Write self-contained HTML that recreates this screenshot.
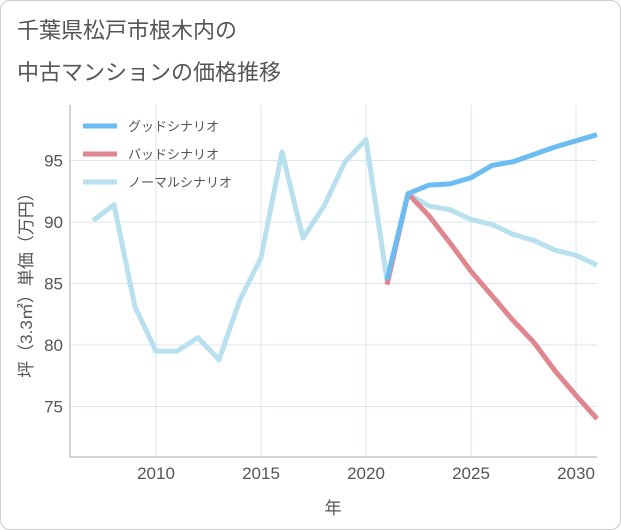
<!DOCTYPE html>
<html><head><meta charset="utf-8"><style>
body{margin:0;background:#fff;font-family:"Liberation Sans","Noto Sans CJK JP",sans-serif}
#wrap{position:relative;width:619px;height:528px;border:1px solid #ccc;border-radius:10px;overflow:hidden;background:#fff}
.t{position:absolute;left:16px;color:#555;font-size:22px;line-height:34px}
</style></head><body>
<div id="wrap">
<div class="t" style="top:13px">千葉県松戸市根木内の</div>
<div class="t" style="top:55px">中古マンションの価格推移</div>
<svg id="c" width="621" height="530" style="position:absolute;left:-1px;top:-1px"></svg>
</div>
<script>
const years=[2007,2008,2009,2010,2011,2012,2013,2014,2015,2016,2017,2018,2019,2020,2021,2022,2023,2024,2025,2026,2027,2028,2029,2030,2031];
const normal=[90.1,91.4,83.1,79.5,79.5,80.6,78.8,83.7,87.1,95.7,88.7,91.3,94.9,96.7,85.3,92.3,91.3,91.0,90.2,89.8,89.0,88.5,87.7,87.3,86.5];
const goodYears=[2021,2022,2023,2024,2025,2026,2027,2028,2029,2030,2031];
const good=[85.3,92.3,93.0,93.1,93.6,94.6,94.9,95.5,96.1,96.6,97.1];
const bad=[84.9,92.3,90.5,88.3,86.0,84.0,82.0,80.2,77.9,75.9,74.0];
const xTicks=[2010,2015,2020,2025,2030];
const yTicks=[75,80,85,90,95];
const ns="http://www.w3.org/2000/svg",svg=document.getElementById('c');
const X=y=>156+(y-2010)*21, Y=v=>222-(v-90)*12.3;
const L=70,R=597,T=105,B=457;
function el(t,a,txt){const e=document.createElementNS(ns,t);for(const k in a)e.setAttribute(k,a[k]);if(txt!==undefined)e.textContent=txt;svg.appendChild(e);return e;}
xTicks.forEach(t=>{const g=el('line',{x1:X(t),x2:X(t),y1:T,y2:B,stroke:'#dde6ee'});


const l=el('text',{x:X(t),y:479,'text-anchor':'middle','font-size':17,fill:'#555'},t);

});
yTicks.forEach(t=>{const g=el('line',{x1:L,x2:R,y1:Y(t),y2:Y(t),stroke:'#dde6ee'});


const l=el('text',{x:63,y:Y(t)+6,'text-anchor':'end','font-size':17,fill:'#555'},t);

});
const ax=el('path',{d:`M${L} ${T}V${B}H${R}`,fill:'none',stroke:'#aaa'});


const xt=el('text',{x:333,y:514,'text-anchor':'middle','font-size':17,fill:'#555'},'年');


const yt=el('text',{x:0,y:0,transform:'translate(32,281) rotate(-90)','text-anchor':'middle','font-size':17,fill:'#555'},'坪（3.3㎡）単価（万円）');


function line(xs,vs,c,name){const p=el('polyline',{points:xs.map((x,i)=>X(x)+','+Y(vs[i])).join(' '),fill:'none',stroke:c,'stroke-width':5,'stroke-linejoin':'round'});

}
line(years,normal,'#b9e0ef','normal-scenario-line');
line(goodYears,bad,'#e0868f','bad-scenario-line');
line(goodYears,good,'#6bbcf0','good-scenario-line');
[['グッドシナリオ','#6bbcf0'],['バッドシナリオ','#e0868f'],['ノーマルシナリオ','#b9e0ef']].forEach((d,i)=>{
const y=126+i*28;
const s=el('line',{x1:83,x2:117,y1:y,y2:y,stroke:d[1],'stroke-width':5});


const t=el('text',{x:128,y:y+5,'font-size':13,fill:'#555'},d[0]);

});
</script>
</body></html>
